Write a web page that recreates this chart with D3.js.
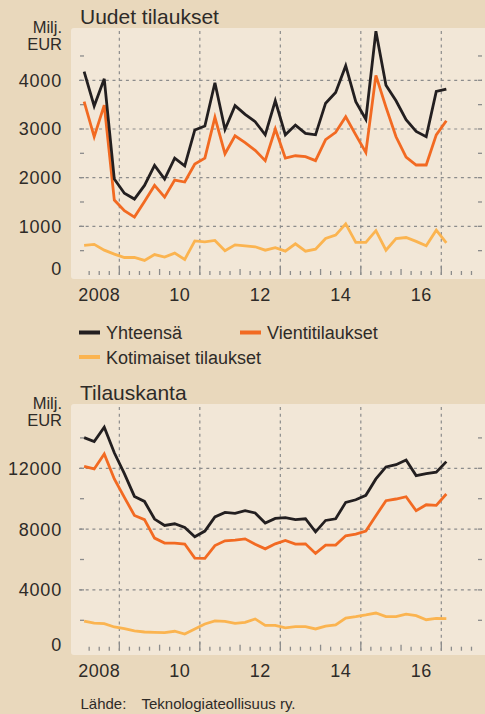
<!DOCTYPE html>
<html>
<head>
<meta charset="utf-8">
<script src="https://cdn.jsdelivr.net/npm/d3@7"></script>
<style>
  body { margin: 0; background: #e9d8bc; }
  svg { display: block; font-family: "Liberation Sans", Arial, sans-serif; }
</style>
</head>
<body>
<script>
// quarters Q1 2008 .. Q1 2017
var quarters = ["2008Q1","2008Q2","2008Q3","2008Q4","2009Q1","2009Q2","2009Q3","2009Q4",
  "2010Q1","2010Q2","2010Q3","2010Q4","2011Q1","2011Q2","2011Q3","2011Q4",
  "2012Q1","2012Q2","2012Q3","2012Q4","2013Q1","2013Q2","2013Q3","2013Q4",
  "2014Q1","2014Q2","2014Q3","2014Q4","2015Q1","2015Q2","2015Q3","2015Q4",
  "2016Q1","2016Q2","2016Q3","2016Q4","2017Q1"];

// Uudet tilaukset, milj. EUR
var newTotal = [4180, 3470, 4030, 1970, 1680, 1560, 1840, 2250, 1970, 2400, 2240, 2980, 3060,
  3950, 2990, 3480, 3300, 3150, 2880, 3580, 2880, 3080, 2910, 2880, 3530,
  3750, 4300, 3560, 3200, 5010, 3900, 3580, 3190, 2950, 2840, 3770, 3820];
var newExport = [3560, 2840, 3490, 1540, 1320, 1190, 1510, 1840, 1600, 1950, 1910, 2280, 2400,
  3240, 2490, 2860, 2720, 2560, 2350, 3000, 2400, 2450, 2430, 2350, 2780,
  2930, 3250, 2880, 2520, 4100, 3450, 2840, 2420, 2260, 2260, 2880, 3170];
var newDomestic = [610, 630, 510, 430, 360, 360, 300, 420, 370, 450, 320, 700, 680,
  710, 500, 620, 600, 580, 510, 560, 490, 640, 490, 530, 750,
  820, 1050, 670, 670, 910, 510, 750, 770, 690, 600, 920, 660];

// Tilauskanta, milj. EUR
var backTotal = [14020, 13760, 14700, 13020, 11650, 10150, 9820, 8660, 8240, 8350, 8110, 7500, 7870,
  8800, 9100, 9030, 9210, 9060, 8400, 8700, 8750, 8620, 8680, 7820, 8570,
  8680, 9760, 9930, 10220, 11300, 12090, 12240, 12550, 11520, 11650, 11740, 12440];
var backExport = [12130, 11960, 12950, 11300, 10090, 8900, 8620, 7410, 7080, 7080, 7020, 6090, 6080,
  6920, 7230, 7280, 7360, 7010, 6700, 7030, 7250, 7010, 7030, 6400, 6940,
  6950, 7560, 7670, 7870, 8880, 9870, 9980, 10130, 9210, 9600, 9560, 10310];
var backDomestic = [1940, 1810, 1780, 1560, 1450, 1300, 1230, 1210, 1190, 1280, 1100, 1430, 1760,
  1960, 1930, 1800, 1870, 2090, 1670, 1670, 1500, 1580, 1580, 1430, 1620,
  1690, 2150, 2240, 2350, 2480, 2240, 2240, 2400, 2310, 2040, 2130, 2110];

var yearLabels = ["2008", "10", "12", "14", "16"];
var seriesNames = ["Yhteensä", "Vientitilaukset", "Kotimaiset tilaukset"];
var colors = ["#231f20", "#f26a22", "#fbb450"];

var width = 485,
    height = 714;

var svg = d3.select("body").append("svg")
    .attr("width", width)
    .attr("height", height);

svg.append("rect")
    .attr("width", width)
    .attr("height", height)
    .attr("fill", "#e9d8bc");

// quarter string -> fractional year at mid quarter
function qTime(q) {
  return +q.slice(0, 4) + (+q.slice(5) - 1) * 0.25 + 0.125;
}

var x = d3.scaleLinear()
    .domain([2008, 2017])
    .range([79.1, 441.3]);

var gridColor = "#8c8c8c",
    textColor = "#2e2b28";

function drawPanel(o) {
  var g = svg.append("g");
  var y = d3.scaleLinear().domain(o.domain).range(o.range);
  var zero = y(0);

  g.append("rect")
      .attr("x", 71)
      .attr("y", o.top)
      .attr("width", 420)
      .attr("height", o.bottom - o.top)
      .attr("rx", 3)
      .attr("fill", "#f2e7d7");

  g.append("text")
      .attr("x", 80)
      .attr("y", o.titleY)
      .attr("font-size", 21)
      .attr("fill", textColor)
      .text(o.title);

  // unit label, two short lines
  g.selectAll(".unit")
      .data(["Milj.", "EUR"])
      .enter().append("text")
      .attr("x", 62)
      .attr("y", function(d, i) { return o.top + 5 + i * 16.7; })
      .attr("text-anchor", "end")
      .attr("font-size", 16.5)
      .attr("fill", textColor)
      .text(function(d) { return d; });

  // horizontal grid
  g.selectAll(".hgrid")
      .data(o.grid)
      .enter().append("line")
      .attr("x1", 79).attr("x2", 482)
      .attr("y1", function(d) { return y(d); })
      .attr("y2", function(d) { return y(d); })
      .attr("stroke", gridColor)
      .attr("stroke-width", 1.2)
      .attr("stroke-dasharray", "3,3.7");

  // small y ticks at both sides
  var yt = o.minor.concat(o.grid);
  [[80, 84], [478, 482]].forEach(function(s) {
    g.selectAll(null)
        .data(yt)
        .enter().append("line")
        .attr("x1", s[0]).attr("x2", s[1])
        .attr("y1", function(d) { return y(d); })
        .attr("y2", function(d) { return y(d); })
        .attr("stroke", gridColor)
        .attr("stroke-width", 1.3);
  });

  // vertical grid at odd years
  g.selectAll(".vgrid")
      .data([2009, 2011, 2013, 2015, 2017])
      .enter().append("line")
      .attr("x1", function(d) { return x(d); })
      .attr("x2", function(d) { return x(d); })
      .attr("y1", o.top + 3)
      .attr("y2", zero)
      .attr("stroke", gridColor)
      .attr("stroke-width", 1.2)
      .attr("stroke-dasharray", "3,3.7");

  // quarter ticks on zero line
  var qt = d3.range(2008.25, 2017.8, 0.25);
  g.selectAll(".qtick")
      .data(qt)
      .enter().append("line")
      .attr("x1", function(d) { return x(d); })
      .attr("x2", function(d) { return x(d); })
      .attr("y1", function(d) {
        if (d % 1 !== 0) return zero - 4;
        return d % 2 === 1 ? zero - 9 : zero - 6;
      })
      .attr("y2", zero)
      .attr("stroke", gridColor)
      .attr("stroke-width", 1.3);

  // y labels
  g.selectAll(".ylab")
      .data(o.labels)
      .enter().append("text")
      .attr("x", 62)
      .attr("y", function(d) { return d === 0 ? zero : y(d) + 6.5; })
      .attr("text-anchor", "end")
      .attr("font-size", 18)
      .attr("letter-spacing", 0.8)
      .attr("fill", textColor)
      .text(function(d) { return d; });

  // x labels
  g.selectAll(".xlab")
      .data(yearLabels)
      .enter().append("text")
      .attr("x", function(d, i) { return x(2008.5 + i * 2); })
      .attr("y", o.bottom + 22)
      .attr("text-anchor", "middle")
      .attr("font-size", 18)
      .attr("letter-spacing", 0.5)
      .attr("fill", textColor)
      .text(function(d) { return d; });

  var line = d3.line()
      .x(function(d, i) { return x(qTime(quarters[i])); })
      .y(function(d) { return y(d); });

  // draw domestic first, total on top
  [2, 1, 0].forEach(function(k) {
    g.append("path")
        .datum(o.series[k])
        .attr("fill", "none")
        .attr("stroke", colors[k])
        .attr("stroke-width", 2.8)
        .attr("stroke-linejoin", "miter")
        .attr("d", line);
  });
}

drawPanel({
  title: "Uudet tilaukset",
  titleY: 24,
  top: 28, bottom: 279,
  domain: [0, 4000], range: [275, 80.3],
  grid: [1000, 2000, 3000, 4000],
  minor: [500, 1500, 2500, 3500, 4500],
  labels: [0, 1000, 2000, 3000, 4000],
  series: [newTotal, newExport, newDomestic]
});

drawPanel({
  title: "Tilauskanta",
  titleY: 399.5,
  top: 404, bottom: 655,
  domain: [0, 12000], range: [650.7, 468.3],
  grid: [4000, 8000, 12000],
  minor: [2000, 6000, 10000, 14000],
  labels: [0, 4000, 8000, 12000],
  series: [backTotal, backExport, backDomestic]
});

// legend
var legendPos = [[79, 332.5], [240, 332.5], [79, 357]];
var legend = svg.append("g")
    .selectAll("g")
    .data(seriesNames)
    .enter().append("g")
    .attr("transform", function(d, i) {
      return "translate(" + legendPos[i][0] + "," + legendPos[i][1] + ")";
    });

legend.append("rect")
    .attr("x", 0)
    .attr("y", -2)
    .attr("width", 21)
    .attr("height", 4)
    .attr("fill", function(d, i) { return colors[i]; });

legend.append("text")
    .attr("x", 27)
    .attr("y", 6.5)
    .attr("font-size", 18)
    .attr("fill", textColor)
    .text(function(d) { return d; });

// source
svg.append("text")
    .attr("x", 80.5)
    .attr("y", 709)
    .attr("font-size", 15)
    .attr("fill", textColor)
    .text("Lähde:");

svg.append("text")
    .attr("x", 141.5)
    .attr("y", 709)
    .attr("font-size", 15)
    .attr("fill", textColor)
    .text("Teknologiateollisuus ry.");
</script>
</body>
</html>
